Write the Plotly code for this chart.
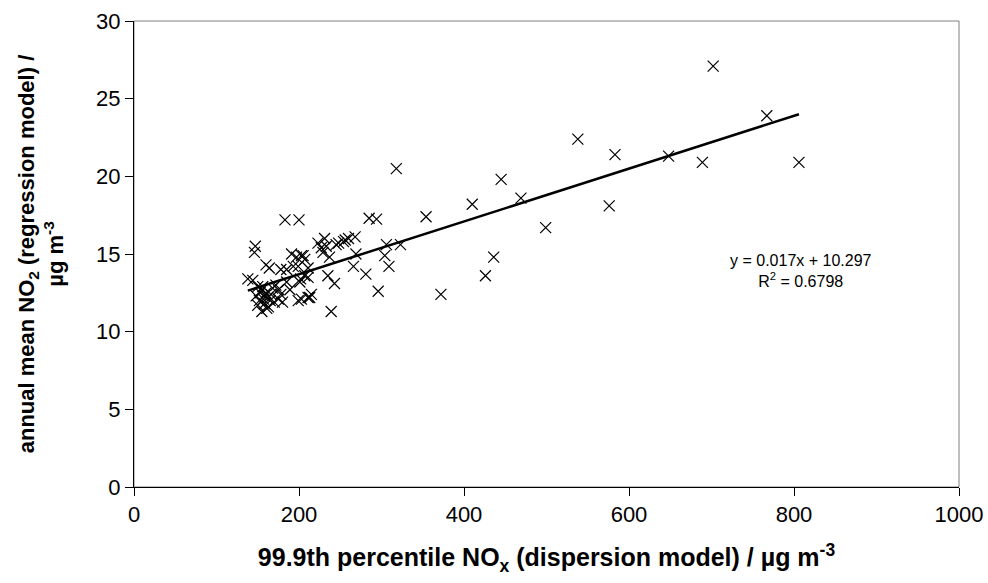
import plotly.graph_objects as go

# 99.9th percentile NOx (dispersion model), ug m-3
nox_p999 = [702, 767, 538, 583, 648, 689, 806, 576, 499, 469, 445, 410, 436, 426, 372,
            354, 318, 294, 285, 323, 306, 304, 309, 296, 281, 269, 266, 268, 260, 256,
            248, 254, 245, 239, 243, 235, 237, 233, 229, 231, 223, 227, 215, 211, 213,
            203, 199, 202, 207, 211, 201, 199, 203, 207, 211, 205, 197, 191, 193, 185,
            178, 189, 200, 183, 147, 146, 160, 164, 138, 144,
            150, 155, 160, 148, 152, 158, 155, 162, 165, 170, 175, 168, 172, 178, 180,
            153, 157, 163, 150, 166, 175, 185, 158, 161, 156]
# annual mean NO2 (regression model), ug m-3
no2_mean = [27.1, 23.9, 22.4, 21.4, 21.3, 20.9, 20.9, 18.1, 16.7, 18.6, 19.8, 18.2, 14.8, 13.6, 12.4,
            17.4, 20.5, 17.25, 17.3, 15.6, 15.6, 14.9, 14.2, 12.6, 13.7, 15.0, 14.2, 16.1, 16.0, 15.9,
            15.7, 15.8, 15.6, 11.3, 13.1, 13.6, 14.8, 15.5, 15.1, 16.0, 15.7, 15.4, 12.4, 12.2, 12.2,
            12.1, 12.0, 13.4, 13.6, 13.5, 13.2, 14.2, 14.9, 14.65, 14.1, 14.9, 14.8, 15.0, 14.2, 14.0,
            14.0, 12.7, 17.2, 17.2, 15.5, 15.1, 14.3, 14.1, 13.4, 13.3,
            12.9, 12.7, 12.5, 12.3, 12.0, 11.8, 11.3, 12.2, 12.0, 11.9, 12.1, 12.8, 13.0, 12.4, 11.9,
            12.5, 12.1, 11.6, 11.7, 12.4, 12.7, 13.2, 12.3, 11.5, 12.9]

# Trendline as reported on the chart
slope = 0.017
intercept = 10.297
r_squared = 0.6798

x_ticks = [0, 200, 400, 600, 800, 1000]
y_ticks = [0, 5, 10, 15, 20, 25, 30]

FONT = "Liberation Sans, Arial, sans-serif"

x_line = [min(nox_p999), max(nox_p999)]
y_line = [slope * v + intercept for v in x_line]

fig = go.Figure()
fig.add_trace(go.Scatter(
    x=nox_p999, y=no2_mean, mode="markers",
    marker=dict(symbol="x-thin-open", size=11, color="black",
                line=dict(color="black", width=1.2)),
    showlegend=False, hoverinfo="x+y"))
fig.add_trace(go.Scatter(
    x=x_line, y=y_line, mode="lines",
    line=dict(color="black", width=2.5),
    showlegend=False, hoverinfo="skip"))

fig.add_annotation(
    x=808, y=13.9, xref="x", yref="y",
    text=f"y = {slope}x + {intercept}<br>R<sup>2</sup> = {r_squared}",
    showarrow=False, align="center",
    font=dict(family=FONT, size=16, color="black"))

fig.add_shape(type="rect", xref="paper", yref="paper", x0=0, y0=0, x1=1, y1=1,
              line=dict(color="#808080", width=1), layer="below")

fig.update_layout(
    width=988, height=583,
    margin=dict(l=134, r=29, t=21, b=96, autoexpand=False),
    paper_bgcolor="white", plot_bgcolor="white",
    font=dict(family=FONT, size=22, color="black"),
    xaxis=dict(range=[0, 1000], tickvals=x_ticks, showgrid=False, zeroline=False,
               showline=True, linecolor="black", linewidth=1,
               ticks="outside", ticklen=8, tickcolor="black", tickwidth=1,
               tickfont=dict(family=FONT, size=22, color="black"),
               title=dict(text="<b>99.9th percentile NO<sub>x</sub> (dispersion model) / µg m<sup>-3</sup></b>",
                          font=dict(family=FONT, size=25, color="black"), standoff=22)),
    yaxis=dict(range=[0, 30], tickvals=y_ticks, showgrid=False, zeroline=False,
               showline=True, linecolor="black", linewidth=1,
               ticks="outside", ticklen=8, tickcolor="black", tickwidth=1,
               tickfont=dict(family=FONT, size=22, color="black"),
               title=dict(text="<b>annual mean NO<sub>2</sub> (regression model) /<br>µg m<sup>-3</sup></b>",
                          font=dict(family=FONT, size=22, color="black"), standoff=26)),
)

fig.write_html("out.html")
